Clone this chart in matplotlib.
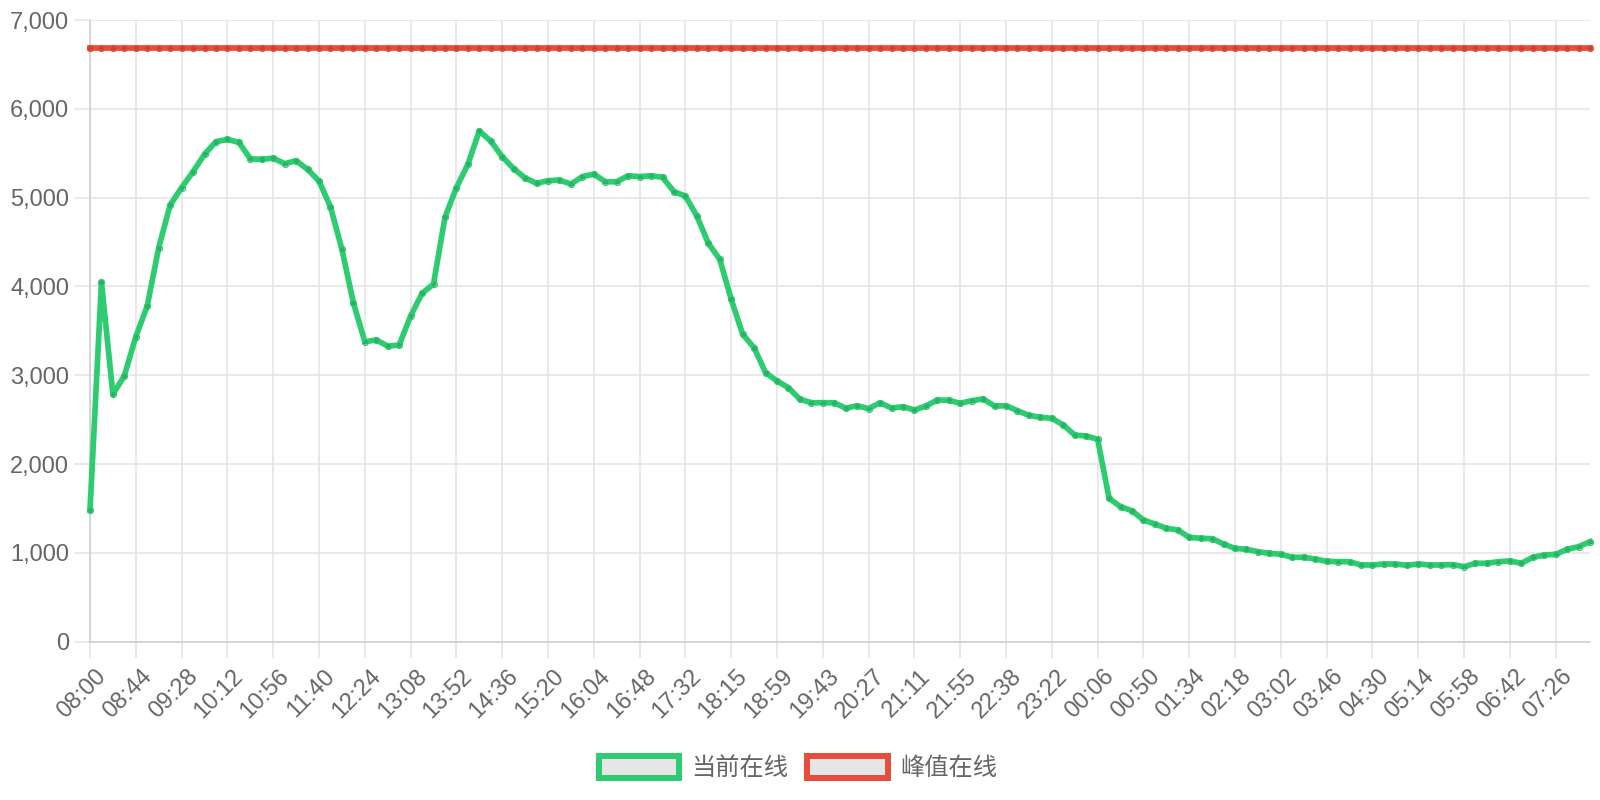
import matplotlib
matplotlib.use("Agg")
import matplotlib.pyplot as plt
import matplotlib.transforms as mtransforms
from matplotlib.patches import Patch

plt.rcParams['font.family'] = ['Liberation Sans', 'Noto Sans CJK SC', 'DejaVu Sans']

# ---- data ----
tick_labels = ["08:00", "08:44", "09:28", "10:12", "10:56", "11:40", "12:24", "13:08",
               "13:52", "14:36", "15:20", "16:04", "16:48", "17:32", "18:15", "18:59",
               "19:43", "20:27", "21:11", "21:55", "22:38", "23:22", "00:06", "00:50",
               "01:34", "02:18", "03:02", "03:46", "04:30", "05:14", "05:58", "06:42",
               "07:26"]

current_online = [1483, 4046, 2785, 2995, 3434, 3780, 4436, 4917, 5112, 5292,
                  5487, 5630, 5656, 5622, 5438, 5431, 5445, 5382, 5416, 5318,
                  5187, 4898, 4418, 3817, 3378, 3397, 3329, 3340, 3667, 3922,
                  4027, 4778, 5112, 5375, 5750, 5637, 5461, 5326, 5221, 5161,
                  5191, 5198, 5153, 5236, 5266, 5179, 5179, 5247, 5236, 5247,
                  5229, 5067, 5018, 4793, 4486, 4305, 3855, 3461, 3310, 3029,
                  2935, 2860, 2729, 2691, 2691, 2691, 2628, 2657, 2624, 2691,
                  2631, 2646, 2609, 2654, 2721, 2718, 2684, 2714, 2733, 2654,
                  2657, 2601, 2549, 2526, 2515, 2440, 2327, 2316, 2279, 1614,
                  1520, 1475, 1370, 1325, 1277, 1258, 1175, 1164, 1160, 1100,
                  1051, 1040, 1013, 995, 984, 950, 950, 931, 905, 901,
                  901, 864, 864, 875, 875, 860, 875, 864, 864, 868,
                  845, 883, 883, 901, 909, 883, 950, 976, 984, 1040,
                  1070, 1126]

peak_value = 6680
peak_online = [peak_value] * len(current_online)

y_ticks = [0, 1000, 2000, 3000, 4000, 5000, 6000, 7000]
series_names = ["当前在线", "峰值在线"]

# ---- style ----
GREEN = "#2ecc71"
RED = "#e74c3c"
GRID = "#e3e3e3"
AXIS = "#cccccc"
TEXT = "#666666"
FS = 17
LFS = 17.5

fig = plt.figure(figsize=(16, 8), dpi=100)
ax = fig.add_axes([90 / 1600, 1 - 641.7 / 800, 1500 / 1600, (641.7 - 20) / 800])

x = list(range(len(current_online)))
tick_step = 4

for vals, col, z in [(peak_online, RED, 3), (current_online, GREEN, 4)]:
    ax.plot(x, vals, color=col, lw=4.1, solid_joinstyle='round', zorder=z,
            marker='o', ms=4.4, mfc=(0, 0, 0, 0.12), mec=col, mew=0.8, clip_on=False)

ax.set_xlim(0, len(current_online) - 1)
ax.set_ylim(0, 7000)
ax.set_yticks(y_ticks)
ax.set_yticklabels([f"{v:,}" for v in y_ticks])
ax.set_xticks(list(range(0, len(current_online), tick_step))[:len(tick_labels)])
ax.set_xticklabels(tick_labels, rotation=45, ha='right', rotation_mode='anchor')

ax.grid(True, color=GRID, lw=1.1, zorder=0)
ax.set_axisbelow(True)
for s in ['top', 'right']:
    ax.spines[s].set_visible(False)
for s in ['left', 'bottom']:
    ax.spines[s].set_color(AXIS)
    ax.spines[s].set_linewidth(1.1)

ax.tick_params(axis='both', length=11.5, width=1.1, color=GRID, labelcolor=TEXT,
               labelsize=FS)
ax.tick_params(axis='y', pad=3.5)
ax.tick_params(axis='x', pad=4)

offset = mtransforms.ScaledTranslation(5 / 100, -2 / 100, fig.dpi_scale_trans)
for lbl in ax.get_xticklabels():
    lbl.set_transform(lbl.get_transform() + offset)

handles = [Patch(facecolor="#e6e6e6", edgecolor=GREEN, lw=4.3, label=series_names[0]),
           Patch(facecolor="#e6e6e6", edgecolor=RED, lw=4.3, label=series_names[1])]
leg = fig.legend(handles=handles, loc='center', bbox_to_anchor=(798 / 1600, 1 - 768 / 800),
                 ncol=2, frameon=False, fontsize=LFS, handlelength=3.3, handleheight=1.05,
                 handletextpad=0.5, columnspacing=0.78, borderaxespad=0)
for t in leg.get_texts():
    t.set_color(TEXT)

fig.savefig("out.png", dpi=100, facecolor="white")
